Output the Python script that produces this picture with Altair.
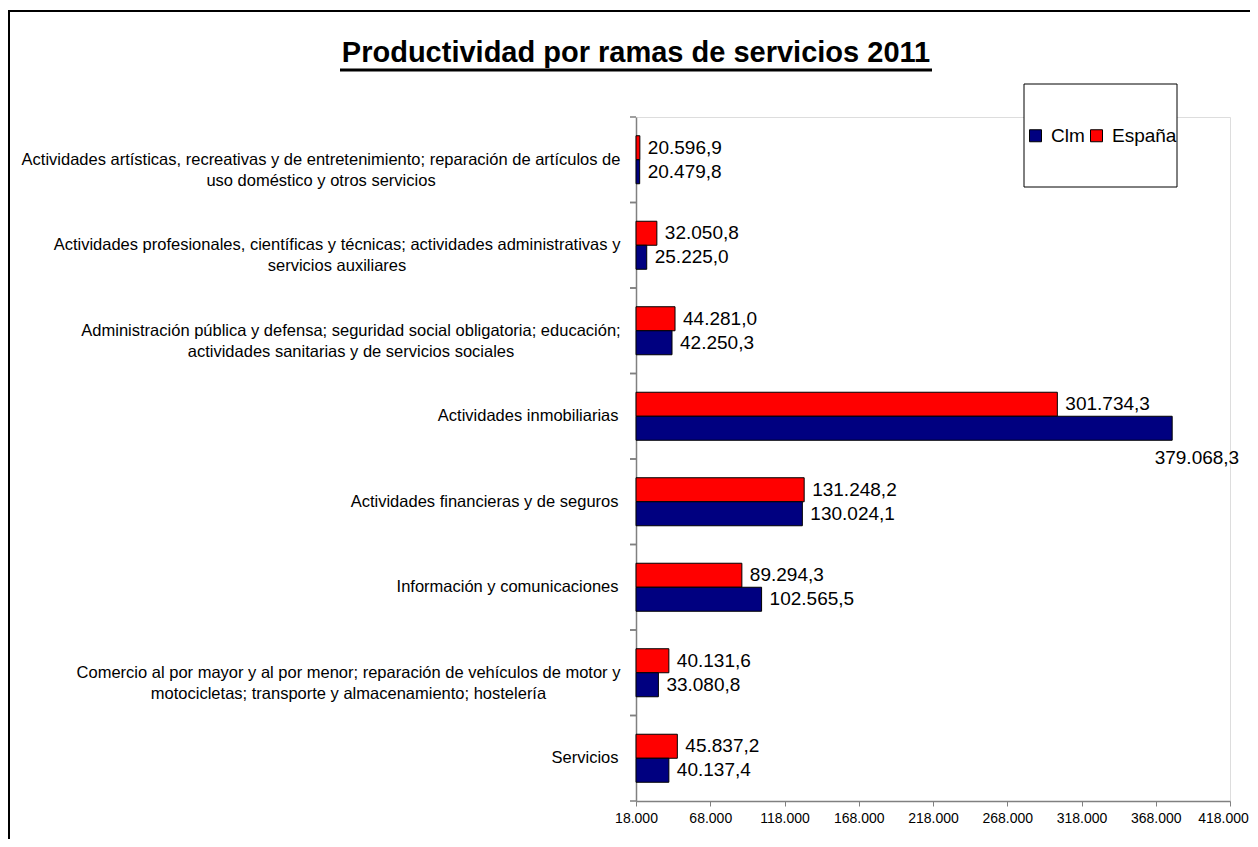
import altair as alt
import pandas as pd

# ---------------- data ----------------
categories = [
    "Actividades artísticas, recreativas y de entretenimiento; reparación de artículos de\nuso doméstico y otros servicios",
    "Actividades profesionales, científicas y técnicas; actividades administrativas y\nservicios auxiliares",
    "Administración pública y defensa; seguridad social obligatoria; educación;\nactividades sanitarias y de servicios sociales",
    "Actividades inmobiliarias",
    "Actividades financieras y de seguros",
    "Información y comunicaciones",
    "Comercio al por mayor y al por menor; reparación de vehículos de motor y\nmotocicletas; transporte y almacenamiento; hostelería",
    "Servicios",
]
espana = [20596.9, 32050.8, 44281.0, 301734.3, 131248.2, 89294.3, 40131.6, 45837.2]
clm = [20479.8, 25225.0, 42250.3, 379068.3, 130024.1, 102565.5, 33080.8, 40137.4]
series = ["Clm", "España"]
colors = ["#000080", "#FF0000"]
x_ticks = [18000, 68000, 118000, 168000, 218000, 268000, 318000, 368000, 418000]
title_text = "Productividad por ramas de servicios 2011"


def es_fmt(v):
    s = f"{v:,.1f}"
    return s.replace(",", "X").replace(".", ",").replace("X", ".")


rows = []
for c, e, m in zip(categories, espana, clm):
    rows.append({"cat": c, "serie": "España", "value": e, "label": es_fmt(e)})
    rows.append({"cat": c, "serie": "Clm", "value": m, "label": es_fmt(m)})
df = pd.DataFrame(rows)
cat_df = pd.DataFrame({"cat": categories})
one = pd.DataFrame({"t": [title_text]})

FONT = "Liberation Sans"
W, H = 594, 684

# two-line labels: second line centred under the first (as in the original)
pad_conditions = [
    {"test": "datum.index == 0", "value": 315.5},
    {"test": "abs(datum.index - 1/7) < 0.01", "value": 299.5},
    {"test": "abs(datum.index - 2/7) < 0.01", "value": 285.5},
    {"test": "abs(datum.index - 6/7) < 0.01", "value": 288},
]

y_scale = alt.Scale(domain=categories, paddingInner=0, paddingOuter=0)
y_enc = alt.Y(
    "cat:N",
    sort=categories,
    scale=y_scale,
    title=None,
    axis=alt.Axis(
        labelExpr="split(datum.value, '\\n')",
        labelFont=FONT,
        labelFontSize=16.5,
        labelColor="#000000",
        labelLineHeight=21,
        labelAlign={"condition": {"test": "indexof(datum.value, '\\n') >= 0", "value": "center"},
                    "value": "right"},
        labelPadding={"condition": pad_conditions, "value": 18},
        labelLimit=700,
        ticks=False,
        tickSize=0,
        domainColor="#808080",
        domainWidth=1.5,
        grid=False,
    ),
)
yoff = alt.YOffset("serie:N", sort=["España", "Clm"],
                   scale=alt.Scale(paddingInner=0, paddingOuter=0.781))
x_scale = alt.Scale(domain=[18000, 418000], zero=False, nice=False)
x_enc = alt.X(
    "value:Q",
    scale=x_scale,
    title=None,
    axis=alt.Axis(
        values=x_ticks,
        labelExpr="replace(format(datum.value, ','), ',', '.')",
        labelFont=FONT,
        labelFontSize=14,
        labelColor="#000000",
        labelPadding=5,
        labelOverlap=False,
        labelFlush=False,
        labelOffset={"condition": {"test": "datum.value >= 418000", "value": -7}, "value": 0},
        tickSize=5,
        tickColor="#808080",
        domainColor="#808080",
        domainWidth=1.5,
        grid=False,
    ),
)
color_enc = alt.Color(
    "serie:N",
    scale=alt.Scale(domain=series, range=colors),
    legend=alt.Legend(
        title=None,
        orient="none",
        legendX=390,
        legendY=9,
        direction="horizontal",
        symbolType="square",
        symbolSize=144,
        symbolStrokeColor="#000000",
        symbolStrokeWidth=1,
        symbolOpacity=1,
        labelFont=FONT,
        labelFontSize=19,
        labelColor="#000000",
        labelOffset=6,
        columnPadding=2,
        padding=0,
    ),
)

# decorative frame, title, legend box
frame_top = alt.Chart(one).mark_rule(color="#000000", strokeWidth=2).encode(
    x=alt.value(-628), x2=alt.value(614), y=alt.value(-106)
)
frame_left = alt.Chart(one).mark_rule(color="#000000", strokeWidth=2).encode(
    x=alt.value(-627), y=alt.value(-106), y2=alt.value(740)
)
title = alt.Chart(one).mark_text(
    font=FONT, fontSize=29, fontWeight="bold", align="center", baseline="alphabetic", color="#000000"
).encode(x=alt.value(0), y=alt.value(-55), text="t:N")
underline = alt.Chart(one).mark_rule(color="#000000", strokeWidth=3).encode(
    x=alt.value(-296), x2=alt.value(296), y=alt.value(-47)
)
legend_box = alt.Chart(one).mark_rect(fill="#FFFFFF", stroke="#000000", strokeWidth=1).encode(
    x=alt.value(388), x2=alt.value(541), y=alt.value(-33), y2=alt.value(70)
)

base = alt.Chart(df).transform_calculate(base="18000")

bars = base.mark_bar(stroke="#000000", strokeWidth=1, opacity=1).encode(
    y=y_enc, yOffset=yoff, x=x_enc, x2=alt.X2("base:Q"), color=color_enc
)

labels = base.transform_filter("datum.value <= 350000").mark_text(
    font=FONT, fontSize=19, align="left", baseline="middle", dx=8, color="#000000"
).encode(
    y=alt.Y("cat:N", sort=categories, scale=y_scale),
    yOffset=yoff,
    x=alt.X("value:Q", scale=x_scale),
    text="label:N",
)
labels_big = base.transform_filter("datum.value > 350000").mark_text(
    font=FONT, fontSize=19, align="right", baseline="middle", dx=67, dy=30, color="#000000"
).encode(
    y=alt.Y("cat:N", sort=categories, scale=y_scale),
    yOffset=yoff,
    x=alt.X("value:Q", scale=x_scale),
    text="label:N",
)

cat_ticks_top = alt.Chart(cat_df).mark_rule(color="#808080", strokeWidth=1.5).encode(
    y=alt.Y("cat:N", sort=categories, scale=y_scale, bandPosition=0),
    x=alt.value(-6),
    x2=alt.value(0),
)
cat_ticks_bot = alt.Chart(cat_df).mark_rule(color="#808080", strokeWidth=1.5).encode(
    y=alt.Y("cat:N", sort=categories, scale=y_scale, bandPosition=1),
    x=alt.value(-6),
    x2=alt.value(0),
)

chart = alt.layer(
    frame_top, frame_left, legend_box, title, underline,
    bars, labels, labels_big, cat_ticks_top, cat_ticks_bot,
).properties(
    width=W,
    height=H,
    autosize=alt.AutoSizeParams(type="none"),
    padding={"left": 628, "top": 109, "right": 20, "bottom": 38},
).configure_view(stroke=None).configure(font=FONT, background="#FFFFFF")

chart.save("out.html", embed_options={"renderer": "svg", "actions": False})
